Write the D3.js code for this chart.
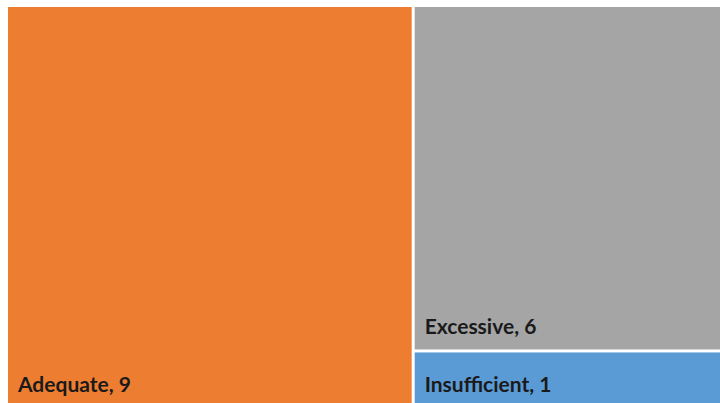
<!DOCTYPE html>
<html>
<head>
<meta charset="utf-8">
<script src="https://cdn.jsdelivr.net/npm/d3@7"></script>
<style>
  html, body { margin: 0; padding: 0; background: #fff; overflow: hidden; }
  svg { display: block; }
</style>
</head>
<body>
<script>
// Ratings and their counts
const categories = ["Adequate", "Excessive", "Insufficient"];
const counts = [9, 6, 1];
const colors = ["#ED7D31", "#A5A5A5", "#5B9BD5"];

const width = 720, height = 403;
const svg = d3.select("body").append("svg")
  .attr("width", width)
  .attr("height", height);

const root = d3.hierarchy({
  children: categories.map((c, i) => ({ name: c, value: counts[i], color: colors[i] }))
}).sum(d => d.value || 0);

d3.treemap()
  .tile(d3.treemapBinary)
  .size([720, 400])
  .paddingInner(3)(root);

const g = svg.append("g").attr("transform", "translate(8,7)");

const cell = g.selectAll("g.cell")
  .data(root.leaves())
  .join("g")
  .attr("class", "cell")
  .attr("transform", d => `translate(${d.x0},${d.y0})`);

cell.append("rect")
  .attr("width", d => d.x1 - d.x0)
  .attr("height", d => d.y1 - d.y0)
  .attr("fill", d => d.data.color);

// Category label in the lower-left corner of each tile
cell.append("text")
  .attr("x", 10)
  .attr("y", d => d.y1 - d.y0 - 15)
  .attr("font-family", "Lato, 'Open Sans', sans-serif")
  .attr("font-weight", "bold")
  .attr("font-size", 21)
  .attr("fill", "#1a1a1a")
  .text(d => `${d.data.name}, ${d.data.value}`);
</script>
</body>
</html>
